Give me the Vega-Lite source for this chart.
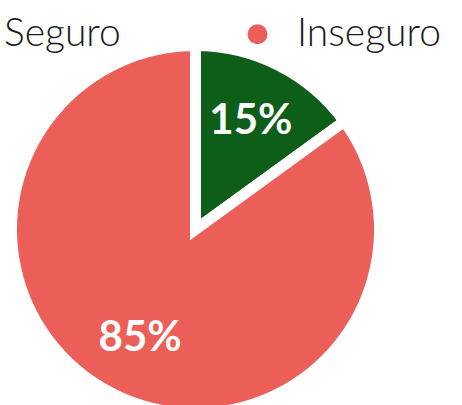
{
  "$schema": "https://vega.github.io/schema/vega-lite/v6.json",
  "width": 368,
  "height": 368,
  "autosize": {"type": "none"},
  "padding": {"left": 11.5, "top": 45.5, "right": 82.5, "bottom": 0},
  "background": "white",
  "data": {
    "values": [
      {"categoria": "Seguro", "valor": 15, "etiqueta": "15%"},
      {"categoria": "Inseguro", "valor": 85, "etiqueta": "85%"}
    ]
  },
  "encoding": {
    "theta": {"field": "valor", "type": "quantitative", "stack": true},
    "order": {"field": "valor", "type": "quantitative", "sort": "ascending"}
  },
  "layer": [
    {
      "mark": {"type": "arc", "outerRadius": 184, "stroke": "white", "strokeWidth": 11, "strokeJoin": "miter"},
      "encoding": {
        "color": {
          "field": "categoria",
          "type": "nominal",
          "scale": {"domain": ["Seguro", "Inseguro"], "range": ["#0C5E19", "#EC5F59"]},
          "legend": {
            "orient": "none",
            "legendX": -66.5,
            "legendY": -31,
            "direction": "horizontal",
            "title": null,
            "padding": 0,
            "symbolType": "circle",
            "symbolSize": 400,
            "symbolStrokeWidth": 0,
            "symbolOpacity": 1,
            "labelFont": "Lato",
            "labelFontSize": 39,
            "labelFontWeight": 300,
            "labelColor": "#1a1a1a",
            "labelOffset": 20,
            "labelLimit": 400,
            "columnPadding": 117
          }
        }
      }
    },
    {
      "mark": {"type": "text", "radius": 122, "font": "Lato", "fontSize": 42, "fontWeight": "bold", "color": "white", "align": "center", "baseline": "middle"},
      "encoding": {
        "text": {"field": "etiqueta", "type": "nominal"}
      }
    }
  ],
  "config": {"view": {"stroke": null}}
}
